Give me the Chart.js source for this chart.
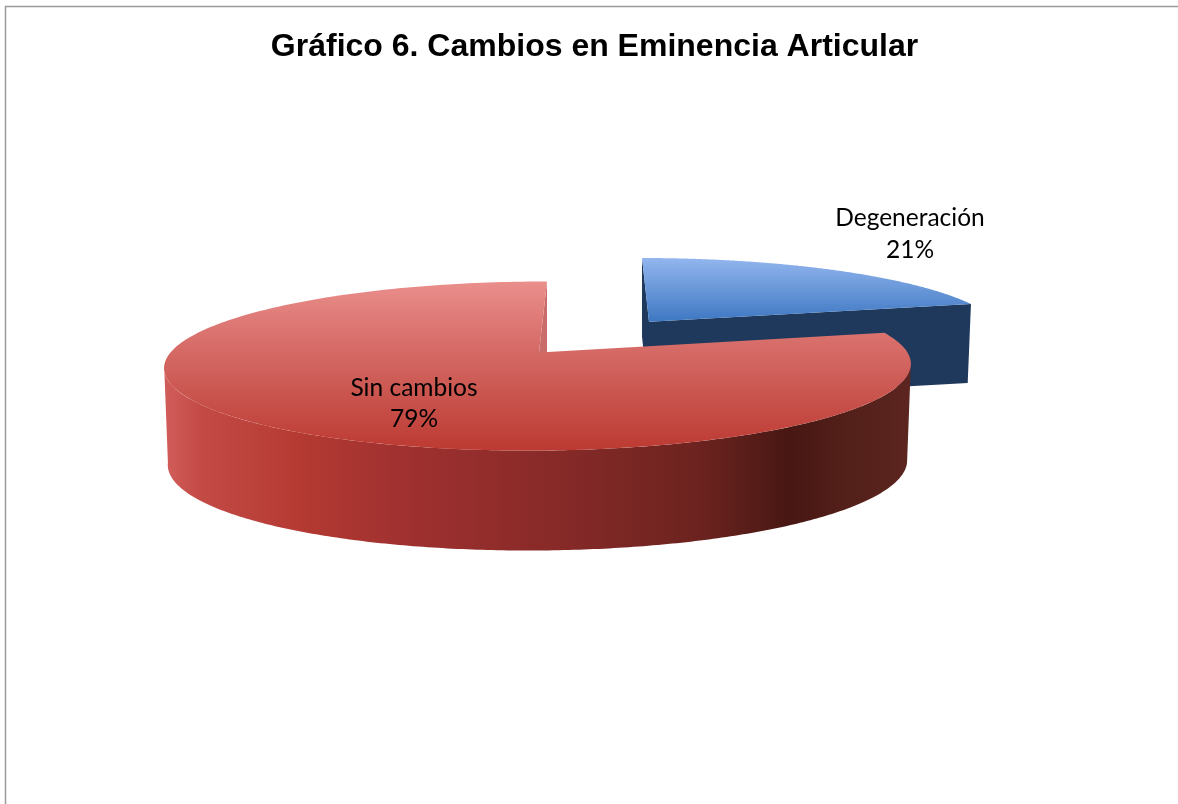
<!DOCTYPE html>
<html>
<head>
<meta charset="utf-8">
<title>Gráfico 6</title>
<script src="https://cdn.jsdelivr.net/npm/chart.js@4/dist/chart.umd.min.js"></script>
<style>
  html, body { margin: 0; background: #fff; }
  canvas { display: block; }
</style>
</head>
<body>
<canvas id="mycanvas" width="1178" height="804"></canvas>
<script>
const categories = ["Degeneración", "Sin cambios"];
const percentages = [21, 79];

// tilted disc for each slice: x0/y0 is the apex, a/b the radii, c the skew,
// k the perspective, depth the wall height, wallA/wallB the lower rim size
const slices = [
    {
        x0: 649, y0: 321.7, a: 347.7, b: 73.9, c: 8.1, k: 0.16,
        depth: 79, wallA: 0.99, wallB: 1,
        topStops: [[258, "#93b6ee"], [322, "#3d77c2"]],
        wallStops: [[640, "#1b3557"], [970, "#20395c"]],
        sideColor: "#1e395c",
        startFace: true,
        labelX: 910, labelY: 218.5
    },
    {
        x0: 539, y0: 352.5, a: 368.5, b: 82.4, c: -9.3, k: 0.16,
        depth: 96, wallA: 0.99, wallB: 1.04,
        topStops: [[281, "#ea8f8c"], [340, "#d86f6b"], [450, "#bc3a32"]],
        wallStops: [
            [168, "#d05c59"], [200, "#c44a46"], [300, "#b43a32"], [400, "#a03130"],
            [550, "#882a28"], [700, "#6c231f"], [790, "#481713"], [850, "#54201a"], [910, "#5c251f"]
        ],
        sideColor: "#c96c6a",
        startFace: false,
        labelX: 414, labelY: 388
    }
];

function project(s, angle, lower) {
    const u = Math.cos(angle), v = Math.sin(angle);
    const w = 1 - s.k * v;
    const sa = lower ? s.wallA : 1, sb = lower ? s.wallB : 1;
    return {
        x: s.x0 + (s.a * sa * u + s.c * v) / w,
        y: s.y0 + (lower ? s.depth : 0) + s.b * sb * v / w
    };
}

function apex(s, lower) {
    return { x: s.x0, y: s.y0 + (lower ? s.depth : 0) };
}

function rim(s, from, to, lower) {
    const pts = [];
    for (let i = 0; i <= 240; i++) {
        pts.push(project(s, from + (to - from) * i / 240, lower));
    }
    return pts;
}

function fillPoly(ctx, pts, fill) {
    ctx.beginPath();
    pts.forEach((p, i) => i ? ctx.lineTo(p.x, p.y) : ctx.moveTo(p.x, p.y));
    ctx.closePath();
    ctx.fillStyle = fill;
    ctx.fill();
}

function ramp(ctx, stops, horizontal) {
    const lo = stops[0][0], hi = stops[stops.length - 1][0];
    const g = horizontal
        ? ctx.createLinearGradient(lo, 0, hi, 0)
        : ctx.createLinearGradient(0, lo, 0, hi);
    stops.forEach(st => g.addColorStop((st[0] - lo) / (hi - lo), st[1]));
    return g;
}

// extruded slices, built from the arc angles the pie controller computes
const extrudedPie = {
    id: "extrudedPie",
    beforeDraw(chart) {
        const ctx = chart.ctx;
        ctx.save();
        ctx.strokeStyle = "#9a9a9a";
        ctx.lineWidth = 1.5;
        ctx.beginPath();
        ctx.moveTo(5.5, 804);
        ctx.lineTo(5.5, 6.5);
        ctx.lineTo(1178, 6.5);
        ctx.stroke();
        ctx.restore();
    },
    beforeDatasetDraw(chart, args) {
        const ctx = chart.ctx;
        args.meta.data.forEach((arc, i) => {
            const s = slices[i];
            const from = arc.startAngle, to = arc.endAngle;

            // outer wall, only the part of the rim that faces the viewer
            const wallFrom = Math.max(from, Math.asin(s.k));
            const wallTo = Math.min(to, Math.PI - Math.asin(s.k));
            if (wallFrom < wallTo) {
                const wall = rim(s, wallFrom, wallTo, false)
                    .concat(rim(s, wallFrom, wallTo, true).reverse());
                fillPoly(ctx, wall, ramp(ctx, s.wallStops, true));
            }

            // cut faces along the radii
            const edges = s.startFace ? [from, to] : [to];
            edges.forEach(edge => {
                fillPoly(ctx, [
                    apex(s, false), project(s, edge, false),
                    project(s, edge, true), apex(s, true)
                ], s.sideColor);
            });

            // top face
            fillPoly(ctx, [apex(s, false)].concat(rim(s, from, to, false)), ramp(ctx, s.topStops, false));
        });
        return false;
    },
    afterDraw(chart) {
        const ctx = chart.ctx;
        ctx.save();
        ctx.font = '24.5px Lato, "Noto Sans", sans-serif';
        ctx.fillStyle = "#000";
        ctx.textAlign = "center";
        ctx.textBaseline = "middle";
        categories.forEach((name, i) => {
            ctx.fillText(name, slices[i].labelX, slices[i].labelY);
            ctx.fillText(percentages[i] + "%", slices[i].labelX, slices[i].labelY + 31.5);
        });
        ctx.restore();
    }
};

const canvas = document.getElementById("mycanvas");
const ctx = canvas.getContext("2d");

var chart = new Chart(ctx, {
    type: "pie",
    data: {
        labels: categories,
        datasets: [
            {
                data: percentages,
                backgroundColor: ["#4f81bd", "#c0504d"],
                borderWidth: 0
            }
        ]
    },
    options: {
        responsive: false,
        animation: false,
        layout: {
            padding: { left: 11 }
        },
        plugins: {
            title: {
                display: true,
                text: "Gráfico 6. Cambios en Eminencia Articular",
                color: "#000",
                font: { family: '"Liberation Sans", Arial, sans-serif', size: 32, weight: "bold" },
                padding: { top: 28, bottom: 10 }
            },
            legend: { display: false },
            tooltip: { enabled: false }
        }
    },
    plugins: [extrudedPie]
});
</script>
</body>
</html>
